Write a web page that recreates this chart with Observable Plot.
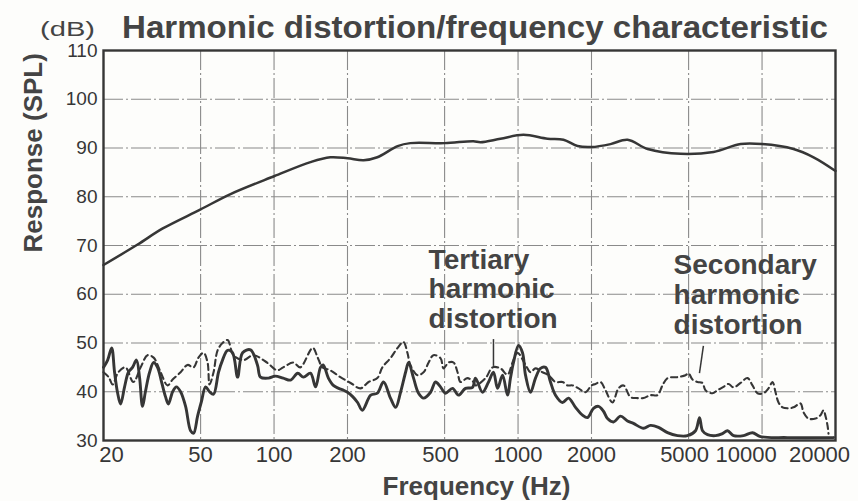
<!DOCTYPE html>
<html>
<head>
<meta charset="utf-8">
<script src="https://cdn.jsdelivr.net/npm/d3@7"></script>
<script src="https://cdn.jsdelivr.net/npm/@observablehq/plot@0.6"></script>
<style>
  html, body { margin: 0; padding: 0; background: #fdfdfb; }
  #chart { width: 858px; height: 501px; overflow: hidden; }
</style>
</head>
<body>
<div id="chart"></div>
<script>
// ---- Tick values ----
const freqTicks = [20, 50, 100, 200, 500, 1000, 2000, 5000, 10000, 20000];
const dbTicks = [30, 40, 50, 60, 70, 80, 90, 100, 110];

// ---- Response (SPL) ----
const responseFreq = [20, 27.6, 35, 50, 66, 100, 141, 170, 200, 233, 265, 321, 362, 500, 656, 702, 847, 1052, 1321, 1535, 1753, 2000, 2394, 2811, 3398, 4640, 6330, 8170, 10000, 13450, 16260, 20000];
const responseDb   = [66, 70.2, 73.5, 77.4, 80.5, 84.2, 87.1, 88.1, 87.9, 87.5, 88.1, 90.4, 91, 91, 91.4, 91.2, 91.9, 92.7, 91.9, 91.7, 90.4, 90.2, 90.8, 91.7, 89.8, 88.8, 89.2, 90.8, 90.8, 89.8, 88.1, 85.3];

// ---- Tertiary harmonic distortion (solid) ----
const tertiaryFreq = [20, 20.8, 21.6, 22.2, 22.8, 23.5, 24.4, 25.3, 26.3, 27.3, 28.1, 28.9, 29.7, 30.9, 32.1, 33.3, 34.6, 35.9, 36.9, 38.4, 39.8, 41.4, 43.4, 45.5, 46.8, 48.6, 50.4, 52.4, 54.4, 56.5, 59.2, 61.5, 64.5, 67.6, 70.9, 74.3, 80.1, 85.5, 88, 94.9, 101, 109, 117, 125, 132, 141, 148, 155, 159, 167, 175, 184, 193, 200, 210, 220, 230, 249, 265, 281, 300, 315, 330, 346, 356, 373, 391, 410, 438, 459, 481, 504, 539, 570, 609, 651, 669, 715, 757, 793, 824, 864, 905, 931, 958, 1004, 1043, 1073, 1125, 1179, 1236, 1296, 1358, 1424, 1521, 1610, 1720, 1837, 1926, 2038, 2137, 2240, 2326, 2462, 2630, 2808, 2972, 3268, 3490, 3764, 4098, 4504, 4948, 5338, 5543, 5702, 5977, 6446, 6886, 7218, 7640, 8396, 9138, 9854, 12716, 19626];
const tertiaryDb   = [45, 46.5, 49, 44, 40, 37.5, 41, 44, 45, 46.5, 43, 37, 40, 44, 46, 45, 42, 39, 37.5, 40, 41, 40, 37, 32, 31.5, 35, 38, 41, 40, 39.5, 44, 46.5, 48.5, 48, 43, 48, 48.6, 45.5, 43, 42.8, 43.2, 42.8, 42.4, 43.8, 43, 43.8, 41, 45, 45.5, 42.8, 41.3, 40.7, 40.3, 39.9, 39, 37.8, 36.2, 39.3, 39.7, 42, 38.7, 36.8, 39.9, 44, 46, 42.8, 39.7, 38.7, 39.9, 42, 41, 39.7, 40.7, 39.3, 40.7, 40.9, 42.8, 39.9, 42, 44, 40.7, 43.4, 39.3, 42.8, 46, 49.5, 48, 43.4, 39.9, 42.8, 44.8, 45, 42, 39.3, 37.8, 38.7, 36.8, 35.2, 34.7, 36.6, 37, 36, 34.5, 33.8, 35, 34, 33.5, 32.5, 33.1, 32.7, 31.6, 31, 31, 32, 34.7, 32, 31.2, 31, 31.4, 32, 31, 31, 31.6, 30.8, 30.6, 30.6];

// ---- Secondary harmonic distortion (dashed) ----
const secondaryFreq = [20, 21, 21.8, 23, 24.6, 26.5, 28.4, 30.3, 32.1, 34.3, 36.6, 38.4, 41.4, 44.2, 46.8, 49, 51.4, 53.4, 54.4, 56.5, 58.7, 61.5, 64.5, 68.2, 75, 82.4, 94, 103, 109, 120, 128, 144, 151, 158, 170, 187, 206, 226, 244, 265, 278, 300, 321, 339, 352, 362, 387, 410, 430, 450, 481, 495, 519, 544, 565, 581, 621, 657, 669, 736, 786, 847, 905, 949, 995, 1073, 1125, 1179, 1260, 1333, 1424, 1521, 1595, 1672, 1769, 1890, 2000, 2077, 2178, 2282, 2438, 2580, 2706, 2890, 3087, 3268, 3490, 3729, 3908, 4098, 4504, 4857, 4996, 5188, 5438, 5702, 5864, 6262, 6566, 6950, 7286, 7640, 8162, 8718, 9138, 9580, 10140, 10630, 11038, 11356, 11682, 12130, 12716, 13458, 14376, 14788, 15500, 16558, 17360, 17858, 18200, 18546, 18722];
const secondaryDb   = [44, 43, 41.5, 44, 45, 42, 45, 47.5, 47, 44, 41.3, 42.5, 44, 45.5, 45, 47, 48, 46, 41.5, 44, 48.5, 50, 50.6, 47.5, 46.5, 47.5, 45.9, 44.4, 45, 46, 45, 49, 47, 45, 44.4, 43, 41.8, 40.7, 42, 42.8, 45, 46.9, 49, 50.2, 48, 45.5, 43.4, 44, 46, 47.5, 46.9, 44.8, 46, 46, 44, 42, 42.8, 42, 41.3, 42.8, 45, 44.8, 43.5, 46, 48, 45.5, 44, 44.8, 44, 43.4, 42, 42, 41.3, 41.3, 40.7, 39.9, 41.3, 41.6, 42, 40.3, 37.8, 40.7, 41.3, 38.9, 38.7, 38.7, 39.3, 39.3, 41.3, 42.8, 43, 43.4, 43.8, 42.5, 42, 41.8, 40.3, 39.7, 40.3, 41, 41.6, 40.9, 41.8, 42.8, 41.3, 39.7, 39.7, 40.7, 42, 39.9, 37.8, 36.8, 36.6, 36.8, 37.6, 35.8, 34.5, 34.5, 35.2, 36.2, 35, 33.1, 31.4];

// ---- Annotations ----
const labelText = ["Tertiary\nharmonic\ndistortion", "Secondary\nharmonic\ndistortion"];
const labelFreq = [430, 4340];
const labelDb = [61.1, 59.9];
const pointerFreq1 = [793, 5750];
const pointerDb1 = [50.8, 49.4];
const pointerFreq2 = [793, 5540];
const pointerDb2 = [45.3, 43.8];

const toRows = (fs, ds) => fs.map((f, i) => ({f, db: ds[i]}));
const response = toRows(responseFreq, responseDb);
const tertiary = toRows(tertiaryFreq, tertiaryDb);
const secondary = toRows(secondaryFreq, secondaryDb);
const labels = labelText.map((t, i) => ({t, f: labelFreq[i], db: labelDb[i]}));
const pointers = pointerFreq1.map((f, i) => ({f1: f, d1: pointerDb1[i], f2: pointerFreq2[i], d2: pointerDb2[i]}));

const ink = "#363636";
const gridStyle = {stroke: "#8a8a8a", strokeWidth: 1.1, strokeDasharray: "20,3,2,3"};
const tickLab = {x: d => d, text: d => String(d), frameAnchor: "bottom", lineAnchor: "middle", dy: 14, fontSize: 22, fill: ink};

const chart = Plot.plot({
  width: 858,
  height: 501,
  marginLeft: 103,
  marginRight: 23,
  marginTop: 50,
  marginBottom: 61,
  style: {background: "#fdfdfb", color: ink, fontFamily: "'Liberation Sans', Arial, sans-serif", fontSize: "19px"},
  x: {type: "log", domain: [20, 20000], axis: null},
  y: {domain: [30, 110], ticks: dbTicks, tickSize: 0, tickPadding: 6, label: null, tickFormat: d => String(d)},
  marks: [
    Plot.ruleX(freqTicks.slice(1, -1), gridStyle),
    Plot.ruleY(dbTicks.slice(1, -1), gridStyle),
    Plot.line(secondary, {x: "f", y: "db", stroke: ink, strokeWidth: 2.1, strokeDasharray: "6,4", curve: "catmull-rom"}),
    Plot.line(tertiary, {x: "f", y: "db", stroke: ink, strokeWidth: 2.9, curve: "catmull-rom"}),
    Plot.line(response, {x: "f", y: "db", stroke: ink, strokeWidth: 2.5, curve: "catmull-rom"}),
    Plot.link(pointers, {x1: "f1", y1: "d1", x2: "f2", y2: "d2", stroke: ink, strokeWidth: 1.5}),
    Plot.text(labels, {x: "f", y: "db", text: "t", textAnchor: "start", lineAnchor: "middle", lineHeight: 1.07, fontSize: 28, fontWeight: "bold", fill: "#444"}),
    Plot.frame({stroke: ink, strokeWidth: 2.4}),
    Plot.text([20], {...tickLab, dx: 8}),
    Plot.text([50, 100, 200, 1000, 2000], {...tickLab, dx: 0}),
    Plot.text([500, 5000], {...tickLab, dx: -4}),
    Plot.text([10000, 20000], {...tickLab, dx: -16}),
    Plot.text(["Frequency (Hz)"], {text: d => d, frameAnchor: "bottom", lineAnchor: "bottom", dy: 54, dx: 7, fontSize: 26, fontWeight: "bold", fill: "#444"}),
    Plot.text(["Response (SPL)"], {text: d => d, frameAnchor: "left", rotate: -90, dx: -70, dy: 7, fontSize: 26, fontWeight: "bold", fill: "#444"})
  ]
});

document.getElementById("chart").appendChild(chart);

const svg = d3.select(chart);
svg.append("text")
  .attr("x", 122).attr("y", 38)
  .attr("text-anchor", "start")
  .attr("font-size", 32).attr("font-weight", "bold")
  .attr("fill", "#444")
  .attr("textLength", 706).attr("lengthAdjust", "spacingAndGlyphs")
  .text("Harmonic distortion/frequency characteristic");
svg.append("text")
  .attr("x", 40).attr("y", 36)
  .attr("text-anchor", "start")
  .attr("font-size", 20)
  .attr("fill", "#444")
  .attr("textLength", 55).attr("lengthAdjust", "spacingAndGlyphs")
  .text("(dB)");
</script>
</body>
</html>
